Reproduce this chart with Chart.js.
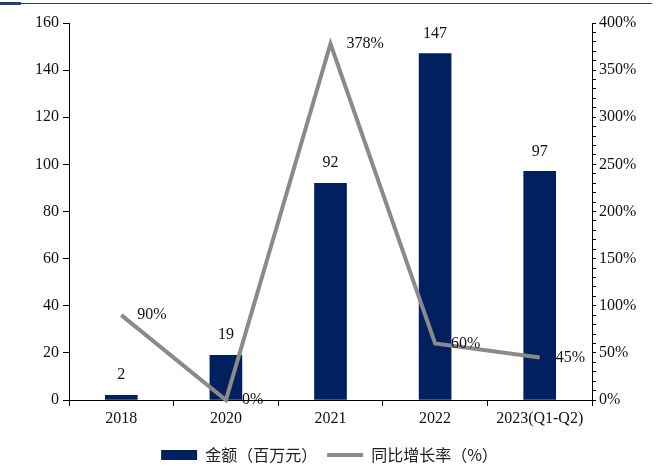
<!DOCTYPE html>
<html lang="zh">
<head>
    <meta charset="UTF-8">
    <title>金额及同比增长率</title>
    <script src="https://cdn.jsdelivr.net/npm/chart.js"></script>
    <style>
        html, body { margin: 0; padding: 0; background: #fff; }
        .wrap { position: relative; width: 659px; height: 474px; }
        .topline { position: absolute; left: 0; top: 3px; width: 652px; height: 1px; background: #1f3f7f; }
        .topline-left { position: absolute; left: 0; top: 2px; width: 21px; height: 3px; background: #1f3f7f; }
        canvas { position: absolute; left: 0; top: 0; }
    </style>
</head>
<body>
    <div class="wrap">
        <div class="topline"></div>
        <div class="topline-left"></div>
        <canvas id="myChart" width="659" height="474"></canvas>
    </div>

    <script>
        const years = ['2018', '2020', '2021', '2022', '2023(Q1-Q2)'];
        const amounts = [2, 19, 92, 147, 97];          // 金额（百万元）
        const growthRates = [90, 0, 378, 60, 45];      // 同比增长率（%）

        const serif = '"Liberation Serif", "Times New Roman", serif';
        const cjk = '"Noto Sans CJK SC", sans-serif';

        // etiquetas de valor sobre barras y puntos
        const valueLabels = {
            id: 'valueLabels',
            afterDatasetsDraw(chart) {
                const ctx = chart.ctx;
                ctx.save();
                ctx.font = '16px ' + serif;
                ctx.fillStyle = '#111';
                ctx.textBaseline = 'middle';
                chart.data.datasets.forEach((ds, i) => {
                    const meta = chart.getDatasetMeta(i);
                    meta.data.forEach((el, j) => {
                        if (ds.type === 'bar') {
                            ctx.textAlign = 'center';
                            ctx.fillText(String(ds.data[j]), el.x, el.y - 20);
                        } else {
                            ctx.textAlign = 'left';
                            ctx.fillText(ds.data[j] + '%', el.x + 16, el.y);
                        }
                    });
                });
                ctx.restore();
            }
        };

        const axisLine = { display: true, color: '#000', width: 1 };

        const config = {
            data: {
                labels: years,
                datasets: [{
                    type: 'bar',
                    label: '金额（百万元）',
                    data: amounts,
                    backgroundColor: '#002060',
                    borderWidth: 0,
                    barThickness: 32,
                    yAxisID: 'y',
                    order: 1,
                    pointStyle: 'rect'
                }, {
                    type: 'line',
                    label: '同比增长率（%）',
                    data: growthRates,
                    borderColor: '#8a8a8a',
                    backgroundColor: '#8a8a8a',
                    borderWidth: 4,
                    pointRadius: 0,
                    pointStyle: 'line',
                    tension: 0,
                    clip: false,
                    yAxisID: 'y1',
                    order: 0
                }]
            },
            options: {
                responsive: false,
                animation: false,
                layout: { padding: { top: 23, left: 0, right: 0, bottom: 1 } },
                plugins: {
                    tooltip: { enabled: false },
                    legend: {
                        position: 'bottom',
                        labels: {
                            sort: (a, b) => a.datasetIndex - b.datasetIndex,
                            usePointStyle: true,
                            pointStyleWidth: 36,
                            boxHeight: 10,
                            padding: 10,
                            color: '#222',
                            font: { family: cjk, size: 16 }
                        }
                    }
                },
                scales: {
                    x: {
                        offset: true,
                        border: axisLine,
                        grid: { offset: true, drawOnChartArea: false, drawTicks: true, tickLength: 6, color: '#000' },
                        ticks: { color: '#111', font: { family: serif, size: 16 }, padding: 3, maxRotation: 0 },
                        afterFit(scale) { scale.height = 37; }
                    },
                    y: {
                        position: 'left',
                        min: 0,
                        max: 160,
                        border: axisLine,
                        grid: { drawOnChartArea: false, drawTicks: true, tickLength: 6, color: '#000' },
                        ticks: { stepSize: 20, color: '#111', font: { family: serif, size: 16 }, padding: 4 },
                        afterFit(scale) { scale.width = 69; }
                    },
                    y1: {
                        position: 'right',
                        min: 0,
                        max: 400,
                        border: axisLine,
                        grid: { drawOnChartArea: false, drawTicks: true, tickLength: 4, color: '#000' },
                        ticks: {
                            stepSize: 10,
                            autoSkip: false,
                            color: '#111',
                            font: { family: serif, size: 16 },
                            padding: 3,
                            callback: v => (v % 50 === 0 ? v + '%' : '')
                        },
                        afterFit(scale) { scale.width = 67; }
                    }
                }
            },
            plugins: [valueLabels]
        };

        new Chart(document.getElementById('myChart'), config);
    </script>
</body>
</html>
